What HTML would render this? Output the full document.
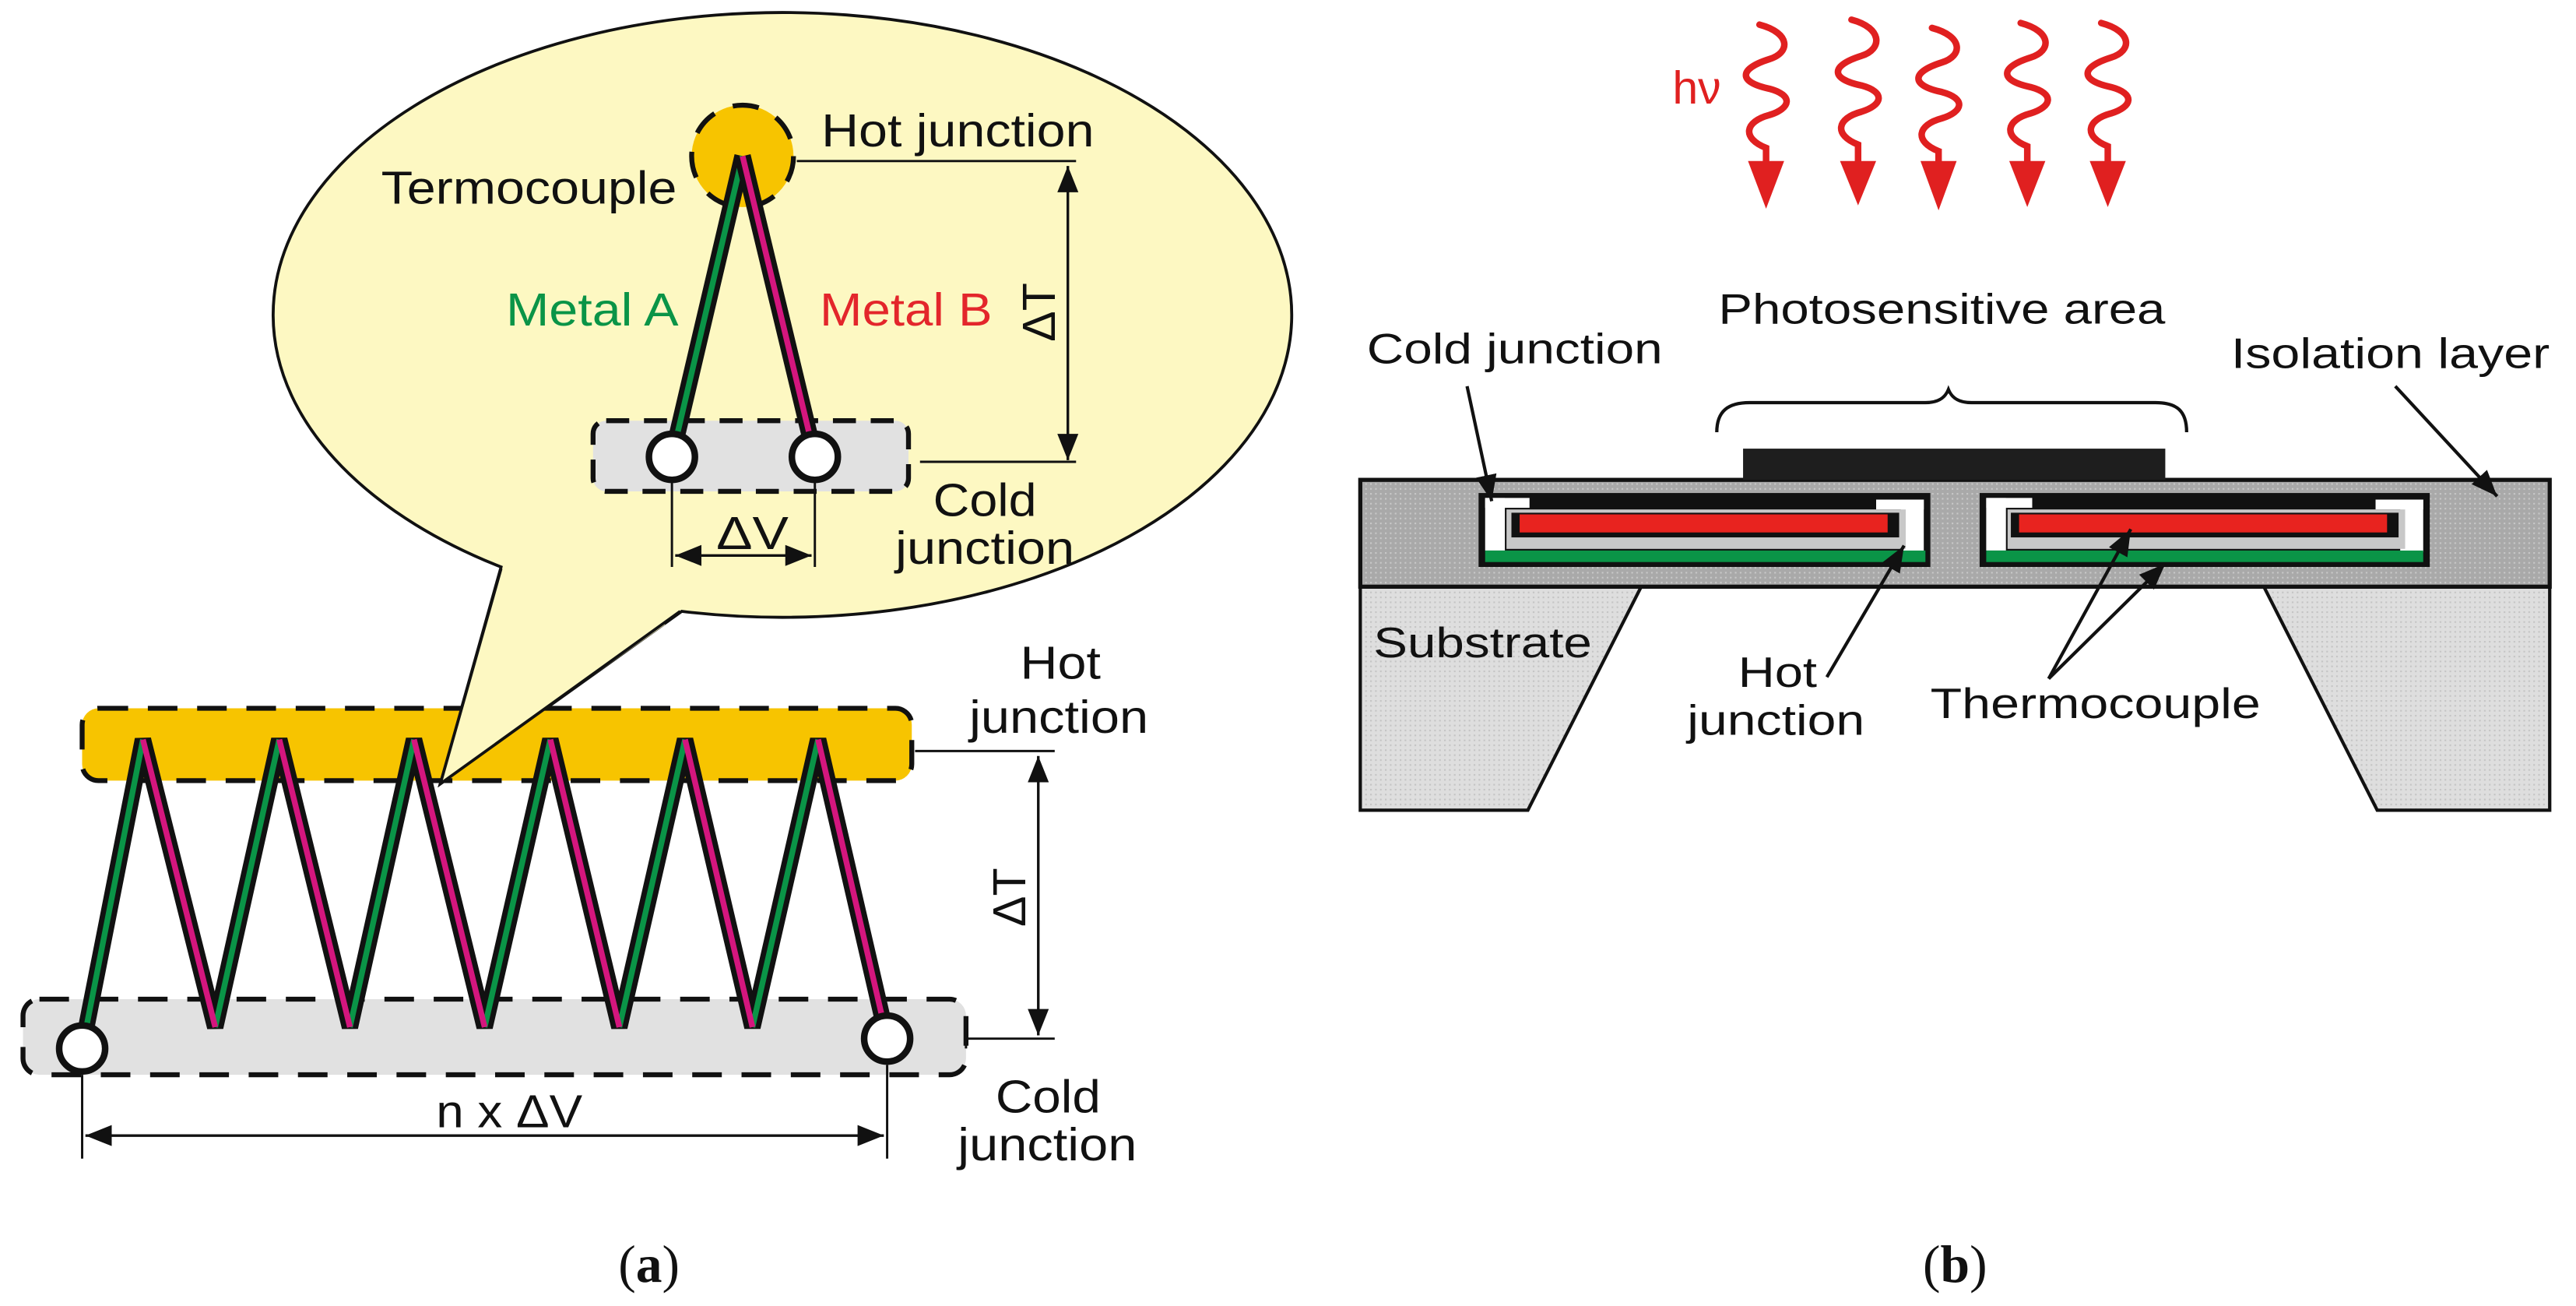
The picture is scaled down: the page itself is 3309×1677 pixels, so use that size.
<!DOCTYPE html>
<html><head><meta charset="utf-8"><style>
html,body{margin:0;padding:0;background:#fff;}
svg{display:block;}
text{font-family:"Liberation Sans",sans-serif;}
</style></head><body>
<svg width="3309" height="1677" viewBox="0 0 1568 794.7" preserveAspectRatio="none" xmlns="http://www.w3.org/2000/svg">
<defs>
<marker id="ah2" viewBox="0 0 10 10" refX="10" refY="5" markerWidth="16" markerHeight="16" orient="auto-start-reverse" markerUnits="userSpaceOnUse"><path d="M0,1 L10,5 L0,9 z" fill="#111"/></marker>
<pattern id="dot" width="3" height="3" patternUnits="userSpaceOnUse"><rect width="3" height="3" fill="#a9a9a9"/><rect width="1" height="1" fill="#c8c8c8"/></pattern>
<pattern id="dot2" width="3" height="3" patternUnits="userSpaceOnUse"><rect width="3" height="3" fill="#dedede"/><rect width="1" height="1" fill="#c4c4c4"/></pattern>
</defs>

<!-- ===== Panel (a) ===== -->
<path d="M305,345 A310,184 0 1 1 415,372 L268,477 Z" fill="#fdf8c2" stroke="#111" stroke-width="1.8"/>
<circle cx="452" cy="95" r="31" fill="#f7c400" stroke="#111" stroke-width="3" stroke-dasharray="16,12"/>
<line x1="485" y1="98" x2="655" y2="98" stroke="#111" stroke-width="1.4"/>
<line x1="650" y1="101" x2="650" y2="280" stroke="#111" stroke-width="1.6" marker-start="url(#ah2)" marker-end="url(#ah2)"/>
<text x="0" y="0" font-size="28" transform="translate(642,190) rotate(-90)" text-anchor="middle" fill="#111">ΔT</text>
<text x="500" y="89" font-size="28" fill="#111" textLength="166" lengthAdjust="spacingAndGlyphs">Hot junction</text>
<text x="232" y="124" font-size="28" fill="#111" textLength="180" lengthAdjust="spacingAndGlyphs">Termocouple</text>
<text x="308" y="198" font-size="28" fill="#0a9447" textLength="105" lengthAdjust="spacingAndGlyphs">Metal A</text>
<text x="499" y="198" font-size="28" fill="#e3262b" textLength="105" lengthAdjust="spacingAndGlyphs">Metal B</text>
<rect x="361" y="256" width="192" height="43" rx="8" fill="#e1e1e1"/>
<rect x="361" y="256" width="192" height="43" rx="8" fill="none" stroke="#111" stroke-width="3" stroke-dasharray="14,9"/>
<line x1="560" y1="281" x2="655" y2="281" stroke="#111" stroke-width="1.4"/>
<line x1="409" y1="278" x2="452" y2="95" stroke="#111" stroke-width="10"/>
<line x1="409" y1="278" x2="452" y2="95" stroke="#0a9447" stroke-width="3.5"/>
<line x1="496" y1="278" x2="452" y2="95" stroke="#111" stroke-width="10"/>
<line x1="496" y1="278" x2="452" y2="95" stroke="#d4167e" stroke-width="3.5"/>
<circle cx="409" cy="278" r="14" fill="#fff" stroke="#111" stroke-width="4"/>
<circle cx="496" cy="278" r="14" fill="#fff" stroke="#111" stroke-width="4"/>
<line x1="409" y1="292" x2="409" y2="345" stroke="#111" stroke-width="1.4"/>
<line x1="496" y1="292" x2="496" y2="345" stroke="#111" stroke-width="1.4"/>
<line x1="411" y1="338" x2="494" y2="338" stroke="#111" stroke-width="1.6" marker-start="url(#ah2)" marker-end="url(#ah2)"/>
<text x="458" y="334" font-size="28" text-anchor="middle" fill="#111" textLength="44" lengthAdjust="spacingAndGlyphs">ΔV</text>
<text x="568" y="314" font-size="28" fill="#111" textLength="63" lengthAdjust="spacingAndGlyphs">Cold</text>
<text x="545" y="343" font-size="28" fill="#111" textLength="109" lengthAdjust="spacingAndGlyphs">junction</text>

<rect x="50" y="431" width="505" height="44" rx="10" fill="#f7c400"/>
<rect x="50" y="431" width="505" height="44" rx="10" fill="none" stroke="#111" stroke-width="3" stroke-dasharray="18,12"/>
<path d="M301,358 L268,477 L405,380" fill="#fdf8c2" stroke="none"/>
<path d="M305,346 L268,477 L414,372" fill="none" stroke="#111" stroke-width="1.8"/>
<rect x="14" y="608" width="574" height="46" rx="10" fill="#e1e1e1"/>
<rect x="14" y="608" width="574" height="46" rx="10" fill="none" stroke="#111" stroke-width="3" stroke-dasharray="18,12"/>
<g stroke-linecap="butt">
<polyline fill="none" stroke="#111" stroke-width="10" points="50,638 87,450 131,625 170,450 213,625 252,450 295,625 335,450 377,625 417,450 458,625 498,450 540,632"/>
<g stroke="#0a9447" stroke-width="3.5">
<line x1="50" y1="638" x2="87" y2="450"/><line x1="131" y1="625" x2="170" y2="450"/><line x1="213" y1="625" x2="252" y2="450"/><line x1="295" y1="625" x2="335" y2="450"/><line x1="377" y1="625" x2="417" y2="450"/><line x1="458" y1="625" x2="498" y2="450"/>
</g>
<g stroke="#d4167e" stroke-width="3.5">
<line x1="87" y1="450" x2="131" y2="625"/><line x1="170" y1="450" x2="213" y2="625"/><line x1="252" y1="450" x2="295" y2="625"/><line x1="335" y1="450" x2="377" y2="625"/><line x1="417" y1="450" x2="458" y2="625"/><line x1="498" y1="450" x2="540" y2="632"/>
</g>
</g>
<circle cx="50" cy="638" r="14" fill="#fff" stroke="#111" stroke-width="4"/>
<circle cx="540" cy="632" r="14" fill="#fff" stroke="#111" stroke-width="4"/>
<line x1="557" y1="457" x2="642" y2="457" stroke="#111" stroke-width="1.4"/>
<line x1="588" y1="632" x2="642" y2="632" stroke="#111" stroke-width="1.4"/>
<line x1="588" y1="626" x2="588" y2="638" stroke="#111" stroke-width="1.4"/>
<line x1="632" y1="460" x2="632" y2="630" stroke="#111" stroke-width="1.6" marker-start="url(#ah2)" marker-end="url(#ah2)"/>
<text x="0" y="0" font-size="28" transform="translate(624,546) rotate(-90)" text-anchor="middle" fill="#111">ΔT</text>
<text x="621" y="413" font-size="28" fill="#111" textLength="49" lengthAdjust="spacingAndGlyphs">Hot</text>
<text x="590" y="446" font-size="28" fill="#111" textLength="109" lengthAdjust="spacingAndGlyphs">junction</text>
<text x="606" y="677" font-size="28" fill="#111" textLength="64" lengthAdjust="spacingAndGlyphs">Cold</text>
<text x="583" y="706" font-size="28" fill="#111" textLength="109" lengthAdjust="spacingAndGlyphs">junction</text>
<line x1="50" y1="654" x2="50" y2="705" stroke="#111" stroke-width="1.4"/>
<line x1="540" y1="648" x2="540" y2="705" stroke="#111" stroke-width="1.4"/>
<line x1="52" y1="691" x2="538" y2="691" stroke="#111" stroke-width="1.6" marker-start="url(#ah2)" marker-end="url(#ah2)"/>
<text x="310" y="686" font-size="28" text-anchor="middle" fill="#111" textLength="89" lengthAdjust="spacingAndGlyphs">n x ΔV</text>
<text x="395" y="780" font-size="32" text-anchor="middle" fill="#111" style="font-family:'Liberation Serif',serif">(<tspan font-weight="bold">a</tspan>)</text>

<!-- ===== Panel (b) ===== -->
<text x="1018" y="63" font-size="28" fill="#e02020">hν</text>
<g fill="none" stroke="#e02020" stroke-width="4" stroke-linecap="round">
<path d="M1071,15 C1090,20 1090,32 1077,36 C1058,42 1058,50 1077,54 C1092,58 1090,66 1077,70 C1062,74 1060,84 1075,90 L1075,100"/>
<path d="M1127,12 C1146,17 1146,30 1133,34 C1114,40 1114,48 1133,52 C1148,56 1146,64 1133,68 C1118,72 1116,82 1131,88 L1131,100"/>
<path d="M1176,17 C1195,22 1195,34 1182,38 C1163,44 1163,52 1182,56 C1197,60 1195,68 1182,72 C1167,76 1165,86 1180,92 L1180,100"/>
<path d="M1230,14 C1249,19 1249,31 1236,35 C1217,41 1217,49 1236,53 C1251,57 1249,65 1236,69 C1221,73 1219,83 1234,89 L1234,100"/>
<path d="M1279,14 C1298,19 1298,31 1285,35 C1266,41 1266,49 1285,53 C1300,57 1298,65 1285,69 C1270,73 1268,83 1283,89 L1283,100"/>
</g>
<g fill="#e02020">
<polygon points="1064,98 1086,98 1075,127"/>
<polygon points="1120,98 1142,98 1131,125"/>
<polygon points="1169,98 1191,98 1180,128"/>
<polygon points="1223,98 1245,98 1234,126"/>
<polygon points="1272,98 1294,98 1283,126"/>
</g>

<polygon points="828,357 999,357 930,493 828,493" fill="url(#dot2)" stroke="#111" stroke-width="2"/>
<polygon points="1378,357 1552,357 1552,493 1447,493" fill="url(#dot2)" stroke="#111" stroke-width="2"/>
<rect x="828" y="292" width="724" height="65" fill="url(#dot)" stroke="#111" stroke-width="2.5"/>
<rect x="1061" y="273" width="257" height="19" fill="#1e1e1e"/>
<path d="M1045,263 C1045,250 1052,245 1065,245 L1172,245 C1180,245 1184,242 1186,237 C1188,242 1192,245 1200,245 L1312,245 C1325,245 1331,250 1331,263" fill="none" stroke="#111" stroke-width="2"/>
<text x="1182" y="197" font-size="26" text-anchor="middle" fill="#111" textLength="272" lengthAdjust="spacingAndGlyphs">Photosensitive area</text>

<g>
<rect x="900" y="300" width="275" height="45" fill="#111"/>
<rect x="904" y="303" width="12" height="32" fill="#fff"/>
<rect x="904" y="303" width="27" height="6" fill="#fff"/>
<rect x="1157" y="304" width="14" height="32" fill="#fff"/>
<rect x="1142" y="304" width="29" height="6" fill="#fff"/>
<rect x="917" y="310" width="243" height="24" fill="#c8c8c8"/>
<rect x="920" y="312" width="236" height="15" fill="#111"/>
<rect x="925" y="313" width="224" height="11" fill="#e8231f"/>
<rect x="904" y="335" width="268" height="7" fill="#0a9447"/>
</g>
<g>
<rect x="1205" y="300" width="274" height="45" fill="#111"/>
<rect x="1209" y="303" width="12" height="32" fill="#fff"/>
<rect x="1209" y="303" width="28" height="6" fill="#fff"/>
<rect x="1461" y="304" width="14" height="32" fill="#fff"/>
<rect x="1446" y="304" width="29" height="6" fill="#fff"/>
<rect x="1222" y="310" width="242" height="24" fill="#c8c8c8"/>
<rect x="1224" y="312" width="236" height="15" fill="#111"/>
<rect x="1229" y="313" width="224" height="11" fill="#e8231f"/>
<rect x="1209" y="335" width="266" height="7" fill="#0a9447"/>
</g>

<text x="832" y="221" font-size="26" fill="#111" textLength="180" lengthAdjust="spacingAndGlyphs">Cold junction</text>
<line x1="893" y1="235" x2="908" y2="305" stroke="#111" stroke-width="2" marker-end="url(#ah2)"/>
<text x="1358" y="224" font-size="26" fill="#111" textLength="194" lengthAdjust="spacingAndGlyphs">Isolation layer</text>
<line x1="1458" y1="235" x2="1520" y2="302" stroke="#111" stroke-width="2" marker-end="url(#ah2)"/>
<text x="836" y="400" font-size="26" fill="#111" textLength="133" lengthAdjust="spacingAndGlyphs">Substrate</text>
<text x="1058" y="418" font-size="26" fill="#111" textLength="48" lengthAdjust="spacingAndGlyphs">Hot</text>
<text x="1027" y="447" font-size="26" fill="#111" textLength="108" lengthAdjust="spacingAndGlyphs">junction</text>
<line x1="1112" y1="412" x2="1159" y2="332" stroke="#111" stroke-width="2" marker-end="url(#ah2)"/>
<text x="1175" y="437" font-size="26" fill="#111" textLength="201" lengthAdjust="spacingAndGlyphs">Thermocouple</text>
<line x1="1247" y1="413" x2="1297" y2="322" stroke="#111" stroke-width="2" marker-end="url(#ah2)"/>
<line x1="1247" y1="413" x2="1318" y2="343" stroke="#111" stroke-width="2" marker-end="url(#ah2)"/>
<text x="1190" y="780" font-size="32" text-anchor="middle" fill="#111" style="font-family:'Liberation Serif',serif">(<tspan font-weight="bold">b</tspan>)</text>
</svg>
</body></html>
